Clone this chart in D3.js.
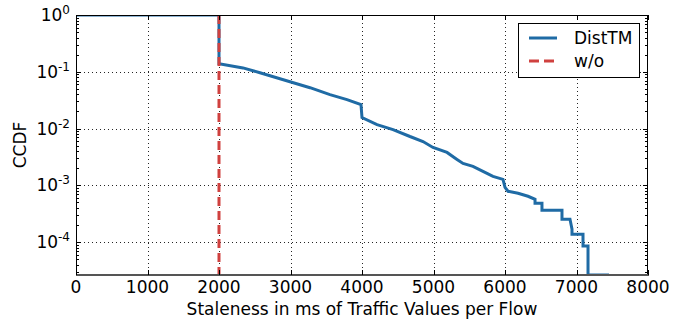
<!DOCTYPE html>
<html>
<head>
<meta charset="utf-8">
<script src="https://cdn.jsdelivr.net/npm/d3@7"></script>
<style>
  html, body { margin: 0; padding: 0; background: #fff; }
  svg { display: block; font-family: "DejaVu Sans", sans-serif; }
</style>
</head>
<body>
<svg id="chart" width="688" height="323"></svg>
<script>
// Staleness (ms) of traffic values per flow, and complementary CDF
const distTmX = [0, 2000, 2000, 2336, 2573, 2993, 3273, 3552, 3790, 3986, 4000,
  4210, 4434, 4671, 4853, 4993, 5189, 5329, 5413, 5552, 5692, 5832, 5972, 6000,
  6042, 6182, 6322, 6420, 6420, 6517, 6517, 6797, 6797, 6909, 6937, 6937, 7091,
  7091, 7161, 7161, 7455];
const distTmCcdf = [1, 1, 0.138, 0.117, 0.096, 0.0668, 0.0524, 0.0395, 0.0323,
  0.0264, 0.0156, 0.0117, 0.0096, 0.00724, 0.00591, 0.00464, 0.00379, 0.00286,
  0.00243, 0.00215, 0.00176, 0.00144, 0.00127, 0.00092, 0.000785, 0.000724,
  0.000641, 0.000568, 0.000483, 0.000483, 0.000364, 0.000364, 0.000253,
  0.000253, 0.000169, 0.000138, 0.000138, 0.0000851, 0.0000851, 0.0000263,
  0.0000263];
// Without DistTM every value is exactly 2000 ms stale
const withoutX = [2000, 2000];
const withoutCcdf = [1, 0.0000263];

const xTicks = [0, 1000, 2000, 3000, 4000, 5000, 6000, 7000, 8000];
const yTickExps = [0, -1, -2, -3, -4];
const seriesNames = ["DistTM", "w/o"];
const colors = ["#1f6ba5", "#d0413f"];

const margin = { left: 76, right: 40, top: 15, bottom: 48 };
const W = 688, H = 323;
const svg = d3.select("#chart");

const x = d3.scaleLinear().domain([0, 8000]).range([margin.left, W - margin.right]);
const y = d3.scaleLog().domain([0.0000263, 1]).range([H - margin.bottom, margin.top]);

const x0 = x.range()[0], x1 = x.range()[1];
const yTop = y.range()[1], yBot = y.range()[0];

svg.append("defs").append("clipPath").attr("id", "plot-clip")
  .append("rect").attr("x", x0).attr("y", yTop).attr("width", x1 - x0).attr("height", yBot - yTop);

// dotted grid at major ticks
const grid = svg.append("g").attr("stroke", "#000").attr("stroke-width", 1)
  .attr("stroke-dasharray", "1,3").attr("opacity", 0.85);
xTicks.slice(1, -1).forEach(t => {
  grid.append("line").attr("x1", Math.round(x(t)) + 0.5).attr("x2", Math.round(x(t)) + 0.5)
    .attr("y1", yTop).attr("y2", yBot);
});
yTickExps.slice(1).forEach(e => {
  const yy = Math.round(y(Math.pow(10, e))) + 0.5;
  grid.append("line").attr("x1", x0).attr("x2", x1).attr("y1", yy).attr("y2", yy);
});

// series
const line = d3.line().x(d => x(d[0])).y(d => y(d[1]));
const plot = svg.append("g").attr("clip-path", "url(#plot-clip)");
plot.append("path")
  .datum(distTmX.map((v, i) => [v, distTmCcdf[i]]))
  .attr("d", line).attr("fill", "none").attr("stroke", colors[0])
  .attr("stroke-width", 3).attr("stroke-linejoin", "miter");
plot.append("path")
  .datum(withoutX.map((v, i) => [v, withoutCcdf[i]]))
  .attr("d", line).attr("fill", "none").attr("stroke", colors[1])
  .attr("stroke-width", 3).attr("stroke-dasharray", "9,5");

// frame
svg.append("rect").attr("x", x0 + 0.5).attr("y", yTop + 0.5)
  .attr("width", x1 - x0 - 1).attr("height", yBot - yTop - 0.5)
  .attr("fill", "none").attr("stroke", "#000").attr("stroke-width", 1);
svg.append("line").attr("x1", x0).attr("x2", x1 + 1).attr("y1", yBot).attr("y2", yBot)
  .attr("stroke", "#555").attr("stroke-width", 2);

// ticks inward on all four sides
const ticks = svg.append("g").attr("stroke", "#000").attr("stroke-width", 1);
xTicks.forEach(t => {
  const xx = Math.round(x(t)) + 0.5;
  ticks.append("line").attr("x1", xx).attr("x2", xx).attr("y1", yBot).attr("y2", yBot - 5);
  ticks.append("line").attr("x1", xx).attr("x2", xx).attr("y1", yTop).attr("y2", yTop + 5);
});
yTickExps.forEach(e => {
  const yy = Math.round(y(Math.pow(10, e))) + 0.5;
  ticks.append("line").attr("x1", x0).attr("x2", x0 + 5).attr("y1", yy).attr("y2", yy);
  ticks.append("line").attr("x1", x1).attr("x2", x1 - 5).attr("y1", yy).attr("y2", yy);
});
// minor log ticks
for (let e = -5; e < 0; e++) {
  for (let m = 2; m <= 9; m++) {
    const v = m * Math.pow(10, e);
    if (v < y.domain()[0] || v > 1) continue;
    const yy = Math.round(y(v)) + 0.5;
    ticks.append("line").attr("x1", x0).attr("x2", x0 + 3).attr("y1", yy).attr("y2", yy);
    ticks.append("line").attr("x1", x1).attr("x2", x1 - 3).attr("y1", yy).attr("y2", yy);
  }
}

// tick labels
const labels = svg.append("g").attr("fill", "#000").attr("font-size", 17);
xTicks.forEach(t => {
  labels.append("text").attr("x", x(t)).attr("y", yBot + 18)
    .attr("text-anchor", "middle").text(t);
});
yTickExps.forEach(e => {
  const t = labels.append("text").attr("x", x0 - 6).attr("y", y(Math.pow(10, e)) + 6)
    .attr("text-anchor", "end");
  t.append("tspan").text("10");
  t.append("tspan").attr("font-size", 12).attr("dy", -7).text(e === 0 ? "0" : "-" + (-e));
});

// axis titles
svg.append("text").attr("x", (x0 + x1) / 2).attr("y", 315).attr("text-anchor", "middle")
  .attr("font-size", 17).text("Staleness in ms of Traffic Values per Flow");
svg.append("text").attr("transform", `translate(26,${(yTop + yBot) / 2}) rotate(-90)`)
  .attr("text-anchor", "middle").attr("font-size", 17).text("CCDF");

// legend
const lg = svg.append("g");
lg.append("rect").attr("x", 518.5).attr("y", 23.5).attr("width", 121).attr("height", 54)
  .attr("fill", "#fff").attr("stroke", "#000").attr("stroke-width", 1);
seriesNames.forEach((name, i) => {
  const ly = 38 + i * 23;
  lg.append("line").attr("x1", 529).attr("x2", 557).attr("y1", ly).attr("y2", ly)
    .attr("stroke", colors[i]).attr("stroke-width", 3)
    .attr("stroke-dasharray", i === 1 ? "10,5" : null);
  lg.append("text").attr("x", 574).attr("y", ly + 6).attr("font-size", 17).text(name);
});
</script>
</body>
</html>
